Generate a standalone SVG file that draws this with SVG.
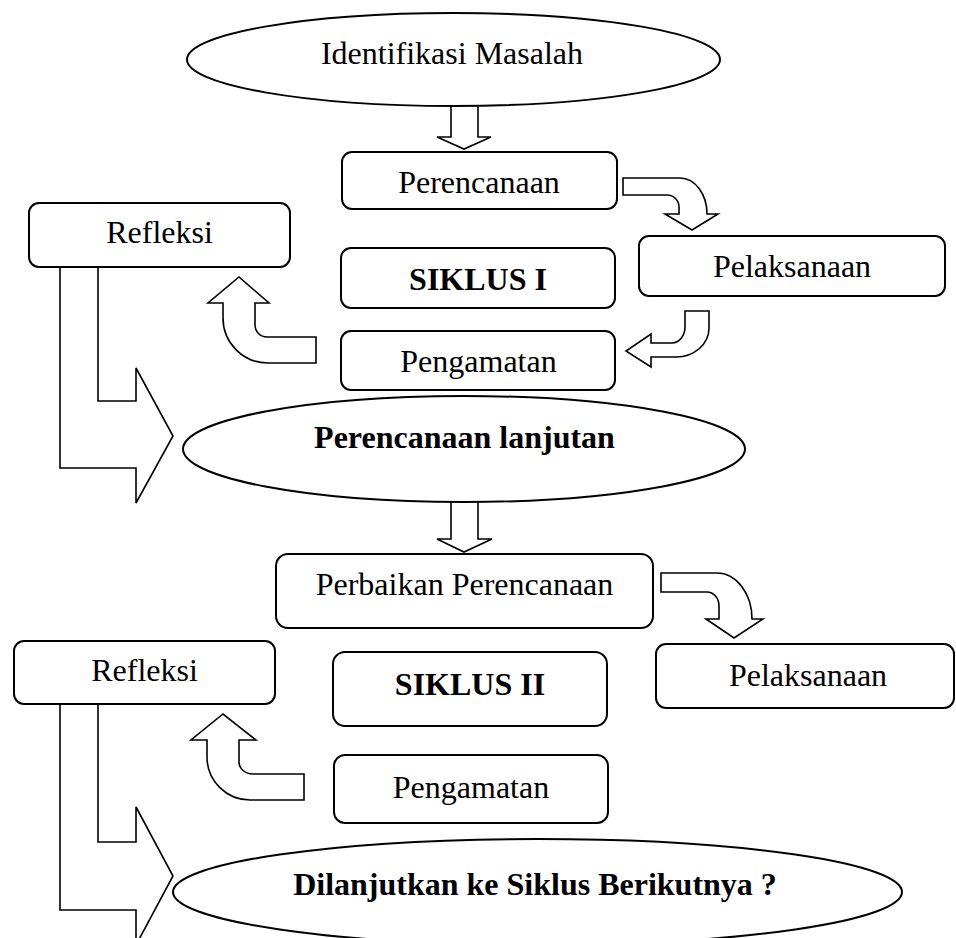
<svg xmlns="http://www.w3.org/2000/svg" width="956" height="938" viewBox="0 0 956 938">
<style>
  .box { fill: #fff; stroke: #000; stroke-width: 2; }
  .ell { fill: #fff; stroke: #000; stroke-width: 2; }
  .arr { fill: #fff; stroke: #000; stroke-width: 1.6; stroke-linejoin: miter; }
  .t { font-family: "Liberation Serif", "Times New Roman", serif; font-size: 32px; fill: #000; text-anchor: middle; }
  .b { font-weight: bold; }
</style>
<rect x="0" y="0" width="956" height="938" fill="#fff"/>
<g id="connectors">
  <path class="arr" d="M451,104 L478,104 L478,137 L491,137 L464,149 L437,137 L451,137 Z"/>
  <path class="arr" d="M623,178 L680,178 A27,36 0 0 1 707,214 L718,214 L692,230 L665,214 L679,214 L679,207 A12,12 0 0 0 667,195 L623,195 Z"/>
  <path class="arr" d="M685,311 L709,311 L709,328 A33,29 0 0 1 676,357 L651,357 L651,367 L626,351 L651,334 L651,343 L672,343 A13,16 0 0 0 685,327 Z"/>
  <path class="arr" d="M316,337 L316,363 L268,363 A45,45 0 0 1 223,318 L223,303 L208,303 L239,277 L269,303 L255,303 L255,325 A12,12 0 0 0 267,337 Z"/>
  <path class="arr" d="M60,267 L60,468 L136,468 L136,503 L173,436 L136,368 L136,401 L98,401 L98,267 Z"/>
  <path class="arr" d="M451,500 L478,500 L478,539 L492,539 L464,552 L437,539 L451,539 Z"/>
  <path class="arr" d="M661,573 L717,573 A35,46 0 0 1 752,619 L763,619 L734,638 L706,619 L719,619 L719,606 A12,14 0 0 0 707,592 L661,592 Z"/>
  <path class="arr" d="M304,774 L304,800 L250,800 A43,43 0 0 1 207,757 L207,740 L191,740 L223,714 L256,740 L239,740 L239,762 A14,12 0 0 0 253,774 Z"/>
  <path class="arr" d="M60,704 L60,910 L136,910 L136,945 L173,876 L136,807 L136,842 L98,842 L98,704 Z"/>
</g>
<g id="identifikasi">
  <ellipse class="ell" cx="453.5" cy="59.5" rx="266.5" ry="46.5"/>
  <text class="t" x="452" y="64">Identifikasi Masalah</text>
</g>
<g id="perencanaan">
  <rect class="box" x="342" y="152" width="275" height="57" rx="10"/>
  <text class="t" x="479" y="193">Perencanaan</text>
</g>
<g id="refleksi1">
  <rect class="box" x="29" y="203" width="261" height="64" rx="10"/>
  <text class="t" x="159.5" y="243">Refleksi</text>
</g>
<g id="siklus1">
  <rect class="box" x="341" y="248" width="274" height="60" rx="10"/>
  <text class="t b" x="478" y="290">SIKLUS I</text>
</g>
<g id="pelaksanaan1">
  <rect class="box" x="639" y="236" width="306" height="60" rx="10"/>
  <text class="t" x="792" y="277">Pelaksanaan</text>
</g>
<g id="pengamatan1">
  <rect class="box" x="341" y="331" width="274" height="59" rx="10"/>
  <text class="t" x="478.5" y="372">Pengamatan</text>
</g>
<g id="perencanaan-lanjutan">
  <ellipse class="ell" cx="464" cy="449" rx="281" ry="53"/>
  <text class="t b" x="464.5" y="448">Perencanaan lanjutan</text>
</g>
<g id="perbaikan">
  <rect class="box" x="276" y="554" width="377" height="74" rx="12"/>
  <text class="t" x="464.5" y="595">Perbaikan Perencanaan</text>
</g>
<g id="refleksi2">
  <rect class="box" x="14" y="641" width="261" height="63" rx="10"/>
  <text class="t" x="144.5" y="681">Refleksi</text>
</g>
<g id="siklus2">
  <rect class="box" x="333" y="652" width="274" height="74" rx="12"/>
  <text class="t b" x="470" y="695">SIKLUS II</text>
</g>
<g id="pelaksanaan2">
  <rect class="box" x="656" y="644" width="298" height="64" rx="10"/>
  <text class="t" x="808" y="686">Pelaksanaan</text>
</g>
<g id="pengamatan2">
  <rect class="box" x="334" y="755" width="274" height="68" rx="11"/>
  <text class="t" x="471" y="798">Pengamatan</text>
</g>
<g id="dilanjutkan">
  <ellipse class="ell" cx="537.5" cy="892" rx="364.5" ry="53"/>
  <text class="t b" x="535" y="895">Dilanjutkan ke Siklus Berikutnya ?</text>
</g>
</svg>
